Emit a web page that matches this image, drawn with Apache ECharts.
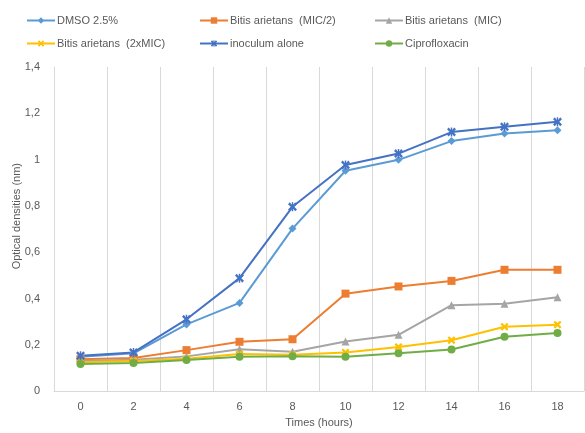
<!DOCTYPE html>
<html><head><meta charset="utf-8">
<script src="https://cdn.jsdelivr.net/npm/echarts@6/dist/echarts.min.js"></script>
<style>html,body{margin:0;padding:0;background:#fff}#c{width:585px;height:433px}</style>
</head><body><div id="c"></div>
<script>
var hours = ['0','2','4','6','8','10','12','14','16','18'];
var dmso = [0.148,0.163,0.288,0.381,0.702,0.952,0.999,1.080,1.113,1.127];
var micHalf = [0.138,0.143,0.177,0.213,0.224,0.421,0.452,0.476,0.524,0.524];
var mic = [0.130,0.135,0.150,0.181,0.170,0.214,0.243,0.371,0.377,0.405];
var mic2x = [0.125,0.130,0.140,0.160,0.157,0.167,0.191,0.220,0.278,0.287];
var inoculum = [0.153,0.167,0.310,0.488,0.796,0.977,1.026,1.119,1.142,1.163];
var cipro = [0.117,0.121,0.134,0.148,0.151,0.148,0.164,0.180,0.235,0.251];

var xPath = 'path://M0,2 L2,0 L5,3 L8,0 L10,2 L7,5 L10,8 L8,10 L5,7 L2,10 L0,8 L3,5 Z';
var starPath = 'path://M0,2 L2,0 L4.2,2.8 L4.2,0 L5.8,0 L5.8,2.8 L8,0 L10,2 L7,5 L10,8 L8,10 L5.8,7.2 L5.8,10 L4.2,10 L4.2,7.2 L2,10 L0,8 L3,5 Z';

function mk(name, data, color, symbol, size){
  return {name:name, type:'line', data:data, symbol:symbol, symbolSize:size,
    lineStyle:{width:2,color:color}, itemStyle:{color:color}, color:color};
}
var chart = echarts.init(document.getElementById('c'));
var legendCommon = {orient:'vertical', itemGap:12, itemWidth:28, itemHeight:8, top:10,
  textStyle:{color:'#595959', fontSize:11, fontFamily:'Liberation Sans', padding:[0,0,0,-3]}};
chart.setOption({
  animation:false,
  textStyle:{fontFamily:'Liberation Sans'},
  legend:[
    Object.assign({left:21, data:['DMSO 2.5%','Bitis arietans  (2xMIC)']}, legendCommon),
    Object.assign({left:194, data:['Bitis arietans  (MIC/2)','inoculum alone']}, legendCommon),
    Object.assign({left:369, data:['Bitis arietans  (MIC)','Ciprofloxacin']}, legendCommon)
  ],
  graphic:[{type:'text', left:11, top:163, rotation:Math.PI/2,
    style:{text:'Optical densities (nm)', fill:'#595959', fontSize:11, fontFamily:'Liberation Sans'}}],
  grid:{left:54, right:1, top:67, bottom:39, containLabel:false},
  xAxis:{type:'category', data:hours, boundaryGap:true,
    name:'Times (hours)', nameLocation:'middle', nameGap:25,
    nameTextStyle:{color:'#595959', fontSize:11},
    axisLine:{lineStyle:{color:'#d9d9d9'}}, axisTick:{show:false},
    axisLabel:{color:'#595959', fontSize:11, margin:10},
    splitLine:{show:true, lineStyle:{color:'#d9d9d9', width:1}}},
  yAxis:{type:'value', min:0, max:1.4, interval:0.2,
    axisLine:{show:true, lineStyle:{color:'#d9d9d9'}}, axisTick:{show:false},
    axisLabel:{color:'#595959', fontSize:11, margin:14,
      formatter:function(v){return String(Math.round(v*10)/10).replace('.',',');}},
    splitLine:{show:false}},
  series:[
    mk('DMSO 2.5%', dmso, '#5B9BD5', 'diamond', 8),
    mk('Bitis arietans  (MIC/2)', micHalf, '#ED7D31', 'rect', 8),
    mk('Bitis arietans  (MIC)', mic, '#A5A5A5', 'triangle', 8),
    mk('Bitis arietans  (2xMIC)', mic2x, '#FFC000', xPath, 8),
    mk('inoculum alone', inoculum, '#4472C4', starPath, 9),
    mk('Ciprofloxacin', cipro, '#70AD47', 'circle', 8)
  ]
});
</script></body></html>
